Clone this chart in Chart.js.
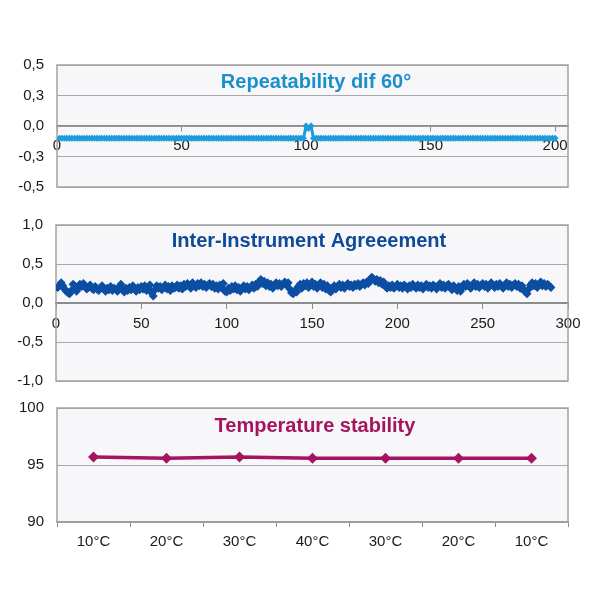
<!DOCTYPE html>
<html>
<head>
<meta charset="utf-8">
<script src="https://cdn.jsdelivr.net/npm/chart.js@4.4.1/dist/chart.umd.min.js"></script>
<style>
  body { margin: 0; background: #fff; }
  #wrap { position: relative; width: 590px; height: 590px; }
  canvas { position: absolute; left: 0; }
</style>
</head>
<body>
<div id="wrap">
  <canvas id="repeatChart" width="590" height="169" style="top:40px"></canvas>
  <canvas id="agreeChart" width="590" height="203" style="top:200px"></canvas>
  <canvas id="tempChart" width="590" height="174" style="top:386px"></canvas>
</div>
<script>
// --- data ---
var repeatValues = [
  -0.1, -0.1, -0.1, -0.1, -0.1, -0.1, -0.1, -0.1, -0.1, -0.1, -0.1, -0.1, -0.1, -0.1, -0.1, -0.1, -0.1, -0.1, -0.1, -0.1,
  -0.1, -0.1, -0.1, -0.1, -0.1, -0.1, -0.1, -0.1, -0.1, -0.1, -0.1, -0.1, -0.1, -0.1, -0.1, -0.1, -0.1, -0.1, -0.1, -0.1,
  -0.1, -0.1, -0.1, -0.1, -0.1, -0.1, -0.1, -0.1, -0.1, -0.1, -0.1, -0.1, -0.1, -0.1, -0.1, -0.1, -0.1, -0.1, -0.1, -0.1,
  -0.1, -0.1, -0.1, -0.1, -0.1, -0.1, -0.1, -0.1, -0.1, -0.1, -0.1, -0.1, -0.1, -0.1, -0.1, -0.1, -0.1, -0.1, -0.1, -0.1,
  -0.1, -0.1, -0.1, -0.1, -0.1, -0.1, -0.1, -0.1, -0.1, -0.1, -0.1, -0.1, -0.1, -0.1, -0.1, -0.1, -0.1, -0.1, -0.1, 0.0,
  -0.02, 0.0, -0.1, -0.1, -0.1, -0.1, -0.1, -0.1, -0.1, -0.1, -0.1, -0.1, -0.1, -0.1, -0.1, -0.1, -0.1, -0.1, -0.1, -0.1,
  -0.1, -0.1, -0.1, -0.1, -0.1, -0.1, -0.1, -0.1, -0.1, -0.1, -0.1, -0.1, -0.1, -0.1, -0.1, -0.1, -0.1, -0.1, -0.1, -0.1,
  -0.1, -0.1, -0.1, -0.1, -0.1, -0.1, -0.1, -0.1, -0.1, -0.1, -0.1, -0.1, -0.1, -0.1, -0.1, -0.1, -0.1, -0.1, -0.1, -0.1,
  -0.1, -0.1, -0.1, -0.1, -0.1, -0.1, -0.1, -0.1, -0.1, -0.1, -0.1, -0.1, -0.1, -0.1, -0.1, -0.1, -0.1, -0.1, -0.1, -0.1,
  -0.1, -0.1, -0.1, -0.1, -0.1, -0.1, -0.1, -0.1, -0.1, -0.1, -0.1, -0.1, -0.1, -0.1, -0.1, -0.1, -0.1, -0.1, -0.1, -0.1
];
var repeatXTicks = [0, 50, 100, 150, 200];
var repeatYTicks = [-0.5, -0.25, 0, 0.25, 0.5];

var agreeValues = [
  0.20, 0.22, 0.26, 0.22, 0.18, 0.15, 0.13, 0.12, 0.16, 0.24,
  0.22, 0.15, 0.19, 0.24, 0.21, 0.25, 0.22, 0.18, 0.20, 0.23,
  0.19, 0.17, 0.21, 0.18, 0.16, 0.20, 0.22, 0.18, 0.15, 0.19,
  0.17, 0.21, 0.16, 0.19, 0.18, 0.15, 0.20, 0.24, 0.17, 0.14,
  0.19, 0.16, 0.20, 0.17, 0.22, 0.18, 0.15, 0.20, 0.17, 0.21,
  0.18, 0.22, 0.16, 0.20, 0.23, 0.13, 0.09, 0.17, 0.22, 0.19,
  0.21, 0.17, 0.20, 0.23, 0.18, 0.21, 0.16, 0.22, 0.19, 0.20,
  0.23, 0.19, 0.22, 0.18, 0.24, 0.21, 0.25, 0.22, 0.19, 0.26,
  0.23, 0.20, 0.25, 0.22, 0.26, 0.21, 0.24, 0.20, 0.23, 0.25,
  0.21, 0.24, 0.19, 0.22, 0.18, 0.23, 0.20, 0.25, 0.15, 0.14,
  0.19, 0.16, 0.21, 0.18, 0.22, 0.17, 0.20, 0.15, 0.19, 0.22,
  0.18, 0.21, 0.17, 0.20, 0.23, 0.19, 0.24, 0.21, 0.27, 0.30,
  0.25, 0.28, 0.22, 0.26, 0.21, 0.24, 0.19, 0.23, 0.26, 0.22,
  0.25, 0.21, 0.24, 0.27, 0.23, 0.26, 0.18, 0.13, 0.12, 0.16,
  0.14, 0.21, 0.24, 0.19, 0.25, 0.22, 0.26, 0.20, 0.23, 0.27,
  0.21, 0.24, 0.19, 0.23, 0.26, 0.20, 0.24, 0.18, 0.22, 0.16,
  0.14, 0.19, 0.22, 0.18, 0.21, 0.24, 0.20, 0.23, 0.19, 0.22,
  0.25, 0.21, 0.23, 0.20, 0.24, 0.22, 0.25, 0.21, 0.24, 0.26,
  0.23, 0.27, 0.25, 0.30, 0.33, 0.31, 0.28, 0.30, 0.26, 0.29,
  0.24, 0.27, 0.21, 0.19, 0.22, 0.20, 0.23, 0.19, 0.21, 0.24,
  0.20, 0.22, 0.19, 0.23, 0.21, 0.18, 0.22, 0.20, 0.24, 0.21,
  0.19, 0.23, 0.20, 0.22, 0.18, 0.21, 0.24, 0.20, 0.22, 0.19,
  0.23, 0.21, 0.18, 0.22, 0.25, 0.20, 0.23, 0.19, 0.22, 0.24,
  0.20, 0.17, 0.22, 0.19, 0.16, 0.21, 0.15, 0.20, 0.24, 0.21,
  0.25, 0.22, 0.19, 0.23, 0.26, 0.21, 0.24, 0.20, 0.23, 0.25,
  0.21, 0.24, 0.19, 0.22, 0.26, 0.23, 0.20, 0.24, 0.21, 0.25,
  0.22, 0.19, 0.23, 0.26, 0.21, 0.24, 0.20, 0.23, 0.25, 0.21,
  0.24, 0.19, 0.22, 0.17, 0.14, 0.12, 0.18, 0.23, 0.26, 0.22,
  0.25, 0.20, 0.24, 0.27, 0.22, 0.25, 0.21, 0.24, 0.22, 0.20
];
var agreeXTicks = [0, 50, 100, 150, 200, 250, 300];
var agreeYTicks = [-1, -0.5, 0, 0.5, 1];

var tempLabels = ['10°C', '20°C', '30°C', '40°C', '30°C', '20°C', '10°C'];
var tempValues = [95.7, 95.6, 95.7, 95.6, 95.6, 95.6, 95.6];
var tempYTicks = [90, 95, 100];

var FONT = "'Liberation Sans', Arial, sans-serif";
var GRID = '#a9a9a9';
var AXIS = '#8c8c8c';

// plot area fill + frame + title inside the plot area
var panelPlugin = {
  id: 'panel',
  beforeDraw: function (chart) {
    var a = chart.chartArea, ctx = chart.ctx;
    ctx.save();
    ctx.fillStyle = '#f7f7f9';
    ctx.fillRect(a.left, a.top, a.right - a.left, a.bottom - a.top);
    ctx.restore();
  },
  beforeDatasetsDraw: function (chart, args, opts) {
    var a = chart.chartArea, ctx = chart.ctx;
    ctx.save();
    ctx.strokeStyle = '#a3a3a3';
    ctx.lineWidth = 1.5;
    ctx.strokeRect(a.left, a.top, a.right - a.left, a.bottom - a.top);
    ctx.font = 'bold 20px ' + FONT;
    ctx.fillStyle = opts.color;
    ctx.textAlign = 'center';
    ctx.textBaseline = 'middle';
    ctx.fillText(opts.text, opts.x, a.top + opts.dy);
    ctx.restore();
  }
};

function commaTick(v) {
  return v.toFixed(1).replace('.', ',');
}

function toPoints(values) {
  return values.map(function (v, i) { return { x: i + 1, y: v }; });
}

function fixTicks(list) {
  return function (scale) {
    scale.ticks = list.map(function (v) { return { value: v }; });
  };
}

function yScale(min, max, ticks, width, fmt) {
  return {
    min: min, max: max,
    afterBuildTicks: fixTicks(ticks),
    afterFit: function (s) { s.width = width; },
    border: { display: false },
    grid: { color: GRID, lineWidth: 1, drawTicks: false },
    ticks: { padding: 13, color: '#1a1a1a', font: { family: FONT, size: 15 }, callback: fmt }
  };
}

function xCrossScale(max, ticks, borderWidth, pad) {
  return {
    type: 'linear',
    position: { y: 0 },
    min: 0, max: max,
    afterBuildTicks: fixTicks(ticks),
    afterFit: function (s) { s.height = 0; },
    border: { color: AXIS, width: borderWidth },
    grid: { drawOnChartArea: false, color: AXIS, tickLength: 5 },
    ticks: { padding: pad, color: '#1a1a1a', maxRotation: 0, font: { family: FONT, size: 15 } }
  };
}

Chart.defaults.animation = false;
Chart.defaults.devicePixelRatio = 1;

new Chart(document.getElementById('repeatChart'), {
  type: 'scatter',
  data: {
    datasets: [{
      data: toPoints(repeatValues),
      showLine: true,
      borderColor: '#1c9ddb',
      backgroundColor: '#1c9ddb',
      borderWidth: 3,
      pointStyle: 'rectRot',
      pointRadius: 3.5,
      pointBorderWidth: 0
    }]
  },
  options: {
    responsive: false,
    layout: { padding: { top: 25, bottom: 13, right: 22, left: 0 } },
    plugins: {
      legend: { display: false }, tooltip: { enabled: false },
      panel: { text: 'Repeatability dif 60°', color: '#1b8fcc', x: 316, dy: 17 }
    },
    scales: {
      x: xCrossScale(205.2, repeatXTicks, 1.5, 6),
      y: yScale(-0.5, 0.5, repeatYTicks, 57, commaTick)
    }
  },
  plugins: [panelPlugin]
});

new Chart(document.getElementById('agreeChart'), {
  type: 'scatter',
  data: {
    datasets: [{
      data: toPoints(agreeValues),
      showLine: true,
      borderColor: '#0b4ea2',
      backgroundColor: '#0b4ea2',
      borderWidth: 2.5,
      pointStyle: 'rectRot',
      pointRadius: 4.5,
      pointBorderWidth: 0
    }]
  },
  options: {
    responsive: false,
    layout: { padding: { top: 25, bottom: 19, right: 22, left: 0 } },
    plugins: {
      legend: { display: false }, tooltip: { enabled: false },
      panel: { text: 'Inter-Instrument Agreeement', color: '#0e4a99', x: 309, dy: 16 }
    },
    scales: {
      x: xCrossScale(300, agreeXTicks, 2, 7),
      y: yScale(-1, 1, agreeYTicks, 56, commaTick)
    }
  },
  plugins: [panelPlugin]
});

new Chart(document.getElementById('tempChart'), {
  type: 'line',
  data: {
    labels: tempLabels,
    datasets: [{
      data: tempValues,
      borderColor: '#a5145f',
      backgroundColor: '#a5145f',
      borderWidth: 3.5,
      pointStyle: 'rectRot',
      pointRadius: 5.5,
      pointBorderWidth: 0
    }]
  },
  options: {
    responsive: false,
    layout: { padding: { top: 15, bottom: 0, right: 22, left: 0 } },
    plugins: {
      legend: { display: false }, tooltip: { enabled: false },
      panel: { text: 'Temperature stability', color: '#a5145f', x: 315, dy: 18 }
    },
    scales: {
      x: {
        offset: true,
        afterFit: function (s) { s.height = 38; },
        border: { color: AXIS, width: 1.5 },
        grid: { offset: true, drawOnChartArea: false, color: AXIS, tickLength: 5 },
        ticks: { padding: 6, color: '#1a1a1a', maxRotation: 0, font: { family: FONT, size: 15 } }
      },
      y: yScale(90, 100, tempYTicks, 57, function (v) { return String(v); })
    }
  },
  plugins: [panelPlugin]
});
</script>
</body>
</html>
